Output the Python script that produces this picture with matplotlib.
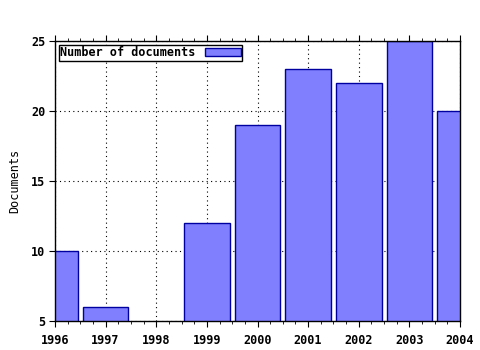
import numpy as np
import matplotlib
matplotlib.use('Agg')
import matplotlib.pyplot as plt
from matplotlib.ticker import MultipleLocator

plt.rcParams['font.family'] = 'DejaVu Sans Mono'
plt.rcParams['font.weight'] = 'bold'
plt.rcParams['font.size'] = 8.5

years = [1996, 1997, 1998, 1999, 2000, 2001, 2002, 2003, 2004]
docs = [10, 6, 4, 12, 19, 23, 22, 25, 20]

fig = plt.figure(figsize=(4.8, 3.5), dpi=100)
ax = fig.add_axes([55/480, 1-321/350, 405/480, 280/350])

# bars start at 0 like gnuplot boxes, the part below 5 is clipped
ax.bar(years, docs, width=0.9, color='#8080ff', edgecolor='#0000a0',
       linewidth=1, label='Number of documents', zorder=2)

ax.set_xlim(1996, 2004)
ax.set_ylim(5, 25)
ax.xaxis.set_major_locator(MultipleLocator(1))
ax.xaxis.set_minor_locator(MultipleLocator(0.25))
ax.yaxis.set_major_locator(MultipleLocator(5))
ax.tick_params(which='both', direction='out', top=True, right=False, color='black')
ax.tick_params(axis='x', which='major', length=4, pad=5)
ax.tick_params(axis='y', which='major', length=4, pad=3)
ax.tick_params(which='minor', length=2.5)
ax.grid(True, which='major', linestyle=(0, (1, 3)), color='black', linewidth=0.8, zorder=1)
ax.set_axisbelow(True)
for s in ax.spines.values():
    s.set_linewidth(1)
    s.set_zorder(3)
ax.set_ylabel('Documents', labelpad=7)

leg = ax.legend(loc='upper left', markerfirst=False, fancybox=False, framealpha=1,
                edgecolor='black', borderaxespad=0.3, borderpad=0.15,
                handlelength=3.0, handleheight=0.6, handletextpad=0.8)
leg.get_frame().set_linewidth(1)

fig.savefig('out.png', dpi=100)
